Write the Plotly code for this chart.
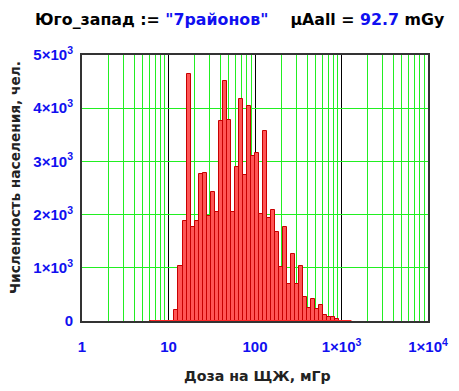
import numpy as np
import plotly.graph_objects as go

# ---- data ----
log_start = 0.79          # log10 of the first bin's lower edge (dose, mGy)
log_step = 0.0465         # bin width in log10 units
counts = [0, 0, 0, 0, 0, 0,
          215, 1035, 1885, 4650, 1770, 1880, 2765, 2775, 1975, 2430,
          2040, 3760, 4510, 3780, 2055, 2900, 4170, 2745, 4040, 3100,
          3165, 2010, 3575, 1935, 2085, 1680, 1010, 1770, 700, 1260,
          690, 1030, 458, 245, 410, 225, 300, 113, 80, 70, 30,
          0, 0, 0]
x_tick_vals = [0, 1, 2, 3, 4]
x_tick_text = ["1", "10", "100", "1×10<sup>3</sup>", "1×10<sup>4</sup>"]
y_tick_vals = [0, 1000, 2000, 3000, 4000, 5000]
y_tick_text = ["0", "1×10<sup>3</sup>", "2×10<sup>3</sup>", "3×10<sup>3</sup>",
               "4×10<sup>3</sup>", "5×10<sup>3</sup>"]

n = len(counts)
edges = log_start + log_step * np.arange(n + 1)
centers = (edges[:-1] + edges[1:]) / 2
minor_vals = [np.log10(k * 10 ** d) for d in range(4) for k in range(2, 10)]

BLUE = "#1010f0"
FONT = "Liberation Sans"
WIDE = "DejaVu Sans"

fig = go.Figure()
fig.add_trace(go.Bar(
    x=centers, y=counts, width=log_step,
    marker=dict(color="rgb(255,85,85)", line=dict(color="rgb(200,0,0)", width=1)),
    showlegend=False, hoverinfo="x+y",
))
fig.add_trace(go.Scatter(
    x=[edges[0], edges[-1]], y=[0, 0], mode="lines",
    line=dict(color="rgb(255,40,40)", width=2), cliponaxis=False,
    showlegend=False, hoverinfo="skip",
))

# page body has an 8px default margin -> paper is 451x383 offset by 8px
fig.update_layout(
    width=451, height=383,
    margin=dict(l=74, r=31, t=47, b=70),
    paper_bgcolor="white", plot_bgcolor="white",
    bargap=0,
    font=dict(family=FONT, size=14, color="black"),
)
fig.update_xaxes(
    range=[0, 4], tickmode="array", tickvals=x_tick_vals, ticktext=x_tick_text,
    showgrid=True, gridcolor="black", gridwidth=1,
    minor=dict(tickmode="array", tickvals=minor_vals, showgrid=True,
               gridcolor="#22ee22", gridwidth=1, ticks=""),
    showline=True, linecolor="#333333", linewidth=2, mirror=True,
    ticks="", ticklabelstandoff=11, zeroline=False,
    tickfont=dict(family=FONT, size=15, color=BLUE, weight="bold"),
    layer="below traces",
)
fig.update_yaxes(
    range=[0, 5000], tickmode="array", tickvals=y_tick_vals, ticktext=y_tick_text,
    showgrid=True, gridcolor="#22ee22", gridwidth=1,
    showline=True, linecolor="#333333", linewidth=2, mirror=True,
    ticks="", ticklabelstandoff=4, zeroline=False,
    tickfont=dict(family=FONT, size=15, color=BLUE, weight="bold"),
)

title_html = ("<b>Юго_запад := <span style='color:%s'>\"7районов\"</span>"
              "&nbsp;&nbsp;&nbsp;&nbsp;μAall = "
              "<span style='color:%s'>92.7</span> mGy</b>") % (BLUE, BLUE)
fig.add_annotation(text=title_html, xref="paper", yref="paper",
                   x=0.5, y=1, xanchor="center", yanchor="middle",
                   yshift=36, xshift=-15, showarrow=False,
                   font=dict(family=WIDE, size=15.8, color="black"))
fig.add_annotation(text="<b>Доза на ЩЖ, мГр</b>", xref="paper", yref="paper",
                   x=0.5, y=0, xanchor="center", yanchor="middle",
                   yshift=-55, xshift=2, showarrow=False,
                   font=dict(family=WIDE, size=14.2, color="#222222"))
fig.add_annotation(text="<b>Численность населения, чел.</b>", xref="paper", yref="paper",
                   x=0, y=0.5, xanchor="center", yanchor="middle",
                   xshift=-67, yshift=10, textangle=-90, showarrow=False,
                   font=dict(family=WIDE, size=13.7, color="#222222"))

fig.write_html("out.html")
